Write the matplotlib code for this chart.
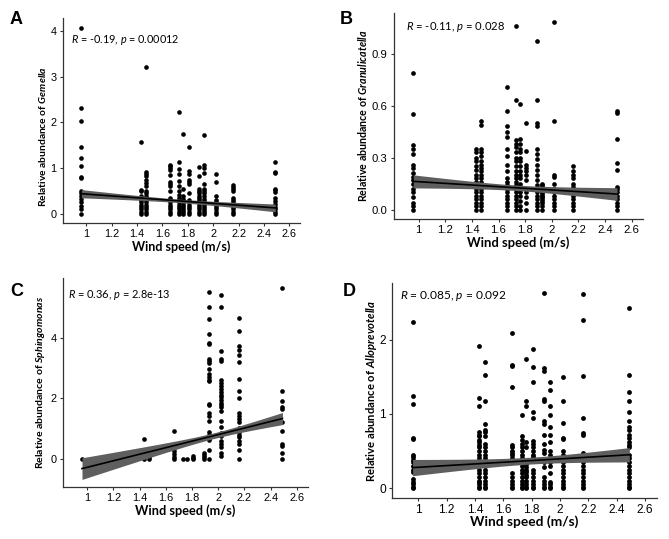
import numpy as np
import matplotlib
matplotlib.use("Agg")
import matplotlib.pyplot as plt

plt.rcParams['mathtext.fontset'] = 'custom'
plt.rcParams['mathtext.rm'] = 'Lato'
plt.rcParams['mathtext.it'] = 'Lato:italic'
plt.rcParams['mathtext.bf'] = 'Lato:bold'
plt.rcParams['mathtext.bfit'] = 'Lato:bold:italic'

# wind speed levels (m/s)
speeds = [0.96, 1.43, 1.47, 1.66, 1.73, 1.76, 1.81, 1.89, 1.93, 2.02, 2.16, 2.49]

# relative abundance per wind speed
gemella = [
    [4.07, 2.31, 2.02, 1.47, 1.23, 1.04, 0.81, 0.78, 0.50, 0.45, 0.38, 0.33, 0.25, 0.18, 0.10, 0.0],
    [1.58, 0.52, 0.50, 0.40, 0.35, 0.30, 0.25, 0.20, 0.15, 0.10, 0.05, 0.0],
    [3.22, 0.92, 0.88, 0.82, 0.75, 0.68, 0.60, 0.50, 0.45, 0.40, 0.35, 0.30, 0.25, 0.20, 0.15, 0.10, 0.05, 0.0],
    [1.07, 1.04, 1.00, 0.95, 0.85, 0.70, 0.65, 0.60, 0.50, 0.35, 0.30, 0.25, 0.20, 0.15, 0.10, 0.05, 0.0],
    [2.23, 1.14, 0.97, 0.88, 0.72, 0.60, 0.50, 0.42, 0.35, 0.30, 0.25, 0.20, 0.15, 0.10, 0.05, 0.0],
    [1.75, 0.55, 0.38, 0.33, 0.28, 0.22, 0.18, 0.12, 0.08, 0.04, 0.0],
    [1.45, 0.93, 0.88, 0.75, 0.70, 0.66, 0.45, 0.30, 0.25, 0.20, 0.15, 0.10, 0.05, 0.0],
    [1.02, 0.82, 0.55, 0.50, 0.45, 0.40, 0.35, 0.30, 0.25, 0.20, 0.15, 0.10, 0.05, 0.0],
    [1.72, 1.06, 1.00, 0.90, 0.65, 0.55, 0.50, 0.45, 0.38, 0.32, 0.28, 0.22, 0.18, 0.12, 0.08, 0.04, 0.0],
    [0.86, 0.70, 0.38, 0.30, 0.25, 0.20, 0.15, 0.10, 0.05, 0.0],
    [0.62, 0.58, 0.55, 0.50, 0.35, 0.30, 0.25, 0.20, 0.15, 0.10, 0.05, 0.0],
    [1.13, 0.92, 0.90, 0.55, 0.52, 0.48, 0.35, 0.28, 0.22, 0.15, 0.10, 0.05, 0.0],
]

granulicatella = [
    [0.79, 0.55, 0.37, 0.35, 0.32, 0.26, 0.24, 0.21, 0.19, 0.17, 0.15, 0.12, 0.10, 0.07, 0.04, 0.02, 0.0],
    [0.35, 0.33, 0.30, 0.28, 0.25, 0.23, 0.20, 0.18, 0.16, 0.14, 0.12, 0.10, 0.08, 0.06, 0.04, 0.02, 0.0],
    [0.51, 0.49, 0.35, 0.33, 0.31, 0.28, 0.26, 0.24, 0.22, 0.20, 0.18, 0.16, 0.14, 0.12, 0.10, 0.08, 0.06, 0.04, 0.02, 0.0],
    [0.71, 0.57, 0.48, 0.45, 0.42, 0.35, 0.31, 0.26, 0.22, 0.18, 0.16, 0.14, 0.12, 0.10, 0.08, 0.06, 0.04, 0.02, 0.0],
    [1.06, 0.63, 0.40, 0.38, 0.36, 0.33, 0.30, 0.28, 0.25, 0.22, 0.20, 0.18, 0.16, 0.14, 0.12, 0.10, 0.08, 0.06, 0.04, 0.02, 0.0],
    [0.61, 0.41, 0.38, 0.35, 0.33, 0.30, 0.28, 0.25, 0.22, 0.20, 0.18, 0.15, 0.12, 0.10, 0.08, 0.05, 0.02, 0.0],
    [0.50, 0.34, 0.26, 0.24, 0.22, 0.20, 0.17, 0.12, 0.10, 0.07, 0.04, 0.0],
    [0.97, 0.63, 0.50, 0.48, 0.35, 0.32, 0.29, 0.26, 0.23, 0.20, 0.17, 0.14, 0.12, 0.10, 0.08, 0.06, 0.04, 0.02, 0.0],
    [0.15, 0.14, 0.13, 0.12, 0.11, 0.10, 0.09, 0.08, 0.07, 0.06, 0.05, 0.04, 0.02, 0.0],
    [1.08, 0.51, 0.20, 0.19, 0.15, 0.12, 0.10, 0.08, 0.06, 0.04, 0.02, 0.0],
    [0.25, 0.22, 0.20, 0.18, 0.15, 0.13, 0.12, 0.10, 0.08, 0.06, 0.04, 0.02, 0.0],
    [0.57, 0.56, 0.41, 0.27, 0.23, 0.13, 0.12, 0.10, 0.08, 0.06, 0.04, 0.02, 0.0],
]

sphingomonas = [
    [0.0],
    [0.66, 0.20, 0.15, 0.10, 0.05, 0.0],
    [0.18, 0.10, 0.05, 0.0],
    [0.91, 0.50, 0.35, 0.25, 0.15, 0.05, 0.0],
    [0.0],
    [0.0],
    [0.08, 0.02, 0.0],
    [0.20, 0.12, 0.05, 0.0],
    [5.52, 5.02, 4.62, 4.12, 3.85, 3.80, 3.32, 3.25, 3.18, 2.98, 2.82, 2.72, 2.62, 2.58,
     1.82, 1.78, 1.50, 1.40, 1.25, 0.88, 0.80, 0.70, 0.62, 0.30, 0.0],
    [5.42, 5.02, 3.57, 3.30, 3.25, 2.60, 2.52, 2.42, 2.30, 2.20, 2.12, 2.05, 1.95, 1.85,
     1.78, 1.72, 1.58, 1.25, 1.05, 0.85, 0.75, 0.60, 0.48, 0.38, 0.20, 0.10],
    [4.68, 4.22, 3.72, 3.60, 3.45, 3.20, 2.65, 2.25, 2.00, 1.50, 1.42, 1.32, 1.20, 1.00,
     0.88, 0.80, 0.72, 0.60, 0.50, 0.30, 0.0],
    [5.67, 2.23, 1.92, 1.72, 1.65, 1.20, 0.93, 0.48, 0.42, 0.20, 0.0],
]

alloprevotella = [
    [2.24, 1.24, 1.13, 0.68, 0.66, 0.45, 0.42, 0.38, 0.35, 0.30, 0.25, 0.22, 0.12, 0.08, 0.05, 0.02, 0.0],
    [1.92, 1.22, 1.10, 0.75, 0.72, 0.70, 0.65, 0.62, 0.58, 0.55, 0.50, 0.45, 0.40, 0.35, 0.30, 0.25, 0.20, 0.15, 0.10, 0.08, 0.05, 0.02, 0.0],
    [1.70, 1.52, 1.18, 0.86, 0.78, 0.75, 0.70, 0.60, 0.55, 0.50, 0.45, 0.40, 0.35, 0.30, 0.25, 0.20, 0.15, 0.10, 0.05, 0.02, 0.0],
    [2.09, 1.66, 1.64, 1.36, 0.58, 0.55, 0.50, 0.48, 0.45, 0.40, 0.35, 0.20, 0.15, 0.10, 0.05, 0.02, 0.0],
    [0.98, 0.70, 0.65, 0.60, 0.55, 0.50, 0.45, 0.40, 0.35, 0.30, 0.25, 0.20, 0.15, 0.10, 0.05, 0.02, 0.0],
    [1.74, 1.17, 1.10, 0.62, 0.55, 0.35, 0.32, 0.28, 0.25, 0.22, 0.18, 0.15, 0.10, 0.05, 0.02, 0.0],
    [1.88, 1.63, 1.43, 1.02, 0.95, 0.63, 0.60, 0.55, 0.50, 0.45, 0.42, 0.25, 0.20, 0.15, 0.10, 0.05, 0.02, 0.0],
    [2.63, 1.62, 1.58, 1.20, 1.18, 0.90, 0.86, 0.72, 0.60, 0.52, 0.48, 0.35, 0.28, 0.15, 0.10, 0.05, 0.02, 0.0],
    [1.43, 1.32, 1.10, 0.98, 0.83, 0.72, 0.62, 0.50, 0.45, 0.40, 0.35, 0.30, 0.20, 0.08, 0.05, 0.02, 0.0],
    [1.50, 1.18, 0.88, 0.68, 0.66, 0.50, 0.45, 0.40, 0.35, 0.30, 0.25, 0.20, 0.15, 0.10, 0.05, 0.02, 0.0],
    [2.62, 2.27, 1.51, 0.95, 0.74, 0.72, 0.47, 0.45, 0.40, 0.35, 0.30, 0.25, 0.20, 0.15, 0.10, 0.05, 0.02, 0.0],
    [2.42, 1.52, 1.30, 1.18, 1.02, 0.90, 0.82, 0.78, 0.72, 0.68, 0.62, 0.58, 0.55, 0.45, 0.40,
     0.35, 0.30, 0.25, 0.20, 0.15, 0.10, 0.05, 0.02, 0.0],
]

# fitted line at the lowest and highest wind speed, and band half-width there
fit_ends = [(0.44, 0.13), (0.163, 0.09), (-0.33, 1.33), (0.277, 0.45)]
band_ends = [(0.10, 0.075), (0.038, 0.036), (0.27, 0.25), (0.10, 0.105)]

genera = ["Gemella", "Granulicatella", "Sphingomonas", "Alloprevotella"]
panel_data = [gemella, granulicatella, sphingomonas, alloprevotella]
stats = ["-0.19, $\\mathit{p}$ = 0.00012", "-0.11, $\\mathit{p}$ = 0.028",
         "0.36, $\\mathit{p}$ = 2.8e-13", "0.085, $\\mathit{p}$ = 0.092"]
letters = ["A", "B", "C", "D"]
yticks = [[0, 1, 2, 3, 4], [0.0, 0.3, 0.6, 0.9], [0, 2, 4], [0, 1, 2]]
ytick_labels = [["0", "1", "2", "3", "4"], ["0.0", "0.3", "0.6", "0.9"], ["0", "2", "4"], ["0", "1", "2"]]
ylims = [(-0.2, 4.28), (-0.054, 1.134), (-0.94, 5.99), (-0.132, 2.762)]
xticks = [1, 1.2, 1.4, 1.6, 1.8, 2, 2.2, 2.4, 2.6]
xtick_labels = ["1", "1.2", "1.4", "1.6", "1.8", "2", "2.2", "2.4", "2.6"]

W, H = 669, 539
# panel boxes in pixels: left, right, top, bottom
boxes = [(63, 300, 18, 223), (394, 643, 13, 219), (63, 308, 278, 487), (392, 657, 283, 498)]
ylab_pos = [(-0.085, 0.42), (-0.125, 0.5), (-0.09, 0.5), (-0.079, 0.5)]
stat_pos = [(0.034, 0.893), (0.048, 0.932), (0.02, 0.919), (0.03, 0.94)]
letter_pos = [(10, 20), (340, 20), (10, 292), (343, 292)]
scale = [1.0, 1.04, 1.02, 1.1]

fig = plt.figure(figsize=(W / 100, H / 100), dpi=100)

for i in range(4):
    l, r, t, b = boxes[i]
    ax = fig.add_axes([l / W, 1 - b / H, (r - l) / W, (b - t) / H])
    s = scale[i]
    x = np.concatenate([[speeds[j]] * len(panel_data[i][j]) for j in range(len(speeds))])
    y = np.concatenate([panel_data[i][j] for j in range(len(speeds))])

    # regression line between the read end values, band shaped like an OLS confidence band
    x0, x1 = speeds[0], speeds[-1]
    xs = np.linspace(x0, x1, 100)
    ys = np.interp(xs, [x0, x1], fit_ends[i])
    shape = np.sqrt(1 / len(x) + (xs - x.mean()) ** 2 / np.sum((x - x.mean()) ** 2))
    c = 0.5 * (band_ends[i][0] / shape[0] + band_ends[i][1] / shape[-1])
    band = c * shape

    ax.scatter(x, y, s=11 * s, color="black", linewidths=0, zorder=2)
    ax.fill_between(xs, ys - band, ys + band, color="#5f5f5f", linewidth=0, zorder=3)
    ax.plot(xs, ys, color="black", linewidth=1.2, zorder=4)

    ax.set_xlim(0.815, 2.685)
    ax.set_ylim(*ylims[i])
    ax.set_xticks(xticks)
    ax.set_xticklabels(xtick_labels, family="Liberation Sans", fontsize=7.8 * s)
    ax.set_yticks(yticks[i])
    ax.set_yticklabels(ytick_labels[i], family="Liberation Sans", fontsize=7.8 * s)
    ax.tick_params(length=2.5, width=0.8, color="#333333", pad=2)
    for side in ["top", "right"]:
        ax.spines[side].set_visible(False)
    for side in ["left", "bottom"]:
        ax.spines[side].set_linewidth(0.9)
        ax.spines[side].set_color("#333333")

    ax.set_xlabel("Wind speed (m/s)", family="Lato", fontweight="bold", fontsize=9 * s)
    ax.xaxis.set_label_coords(0.5, -(24 / (b - t)))
    ax.xaxis.label.set_va("center")
    ax.set_ylabel("Relative abundance of $\\mathbfit{" + genera[i] + "}$",
                  family="Lato", fontweight="bold", fontsize=7.4 * s)
    ax.yaxis.set_label_coords(*ylab_pos[i])
    ax.yaxis.label.set_va("center")

    ax.text(stat_pos[i][0], stat_pos[i][1], "$\\mathit{R}$ = " + stats[i], transform=ax.transAxes,
            family="Lato", fontsize=7.8 * s, va="center", ha="left")

    fig.text(letter_pos[i][0] / W, 1 - letter_pos[i][1] / H, letters[i],
             family="Liberation Sans", fontweight="bold", fontsize=13, va="center", ha="left")

plt.savefig("out.png", dpi=100)
